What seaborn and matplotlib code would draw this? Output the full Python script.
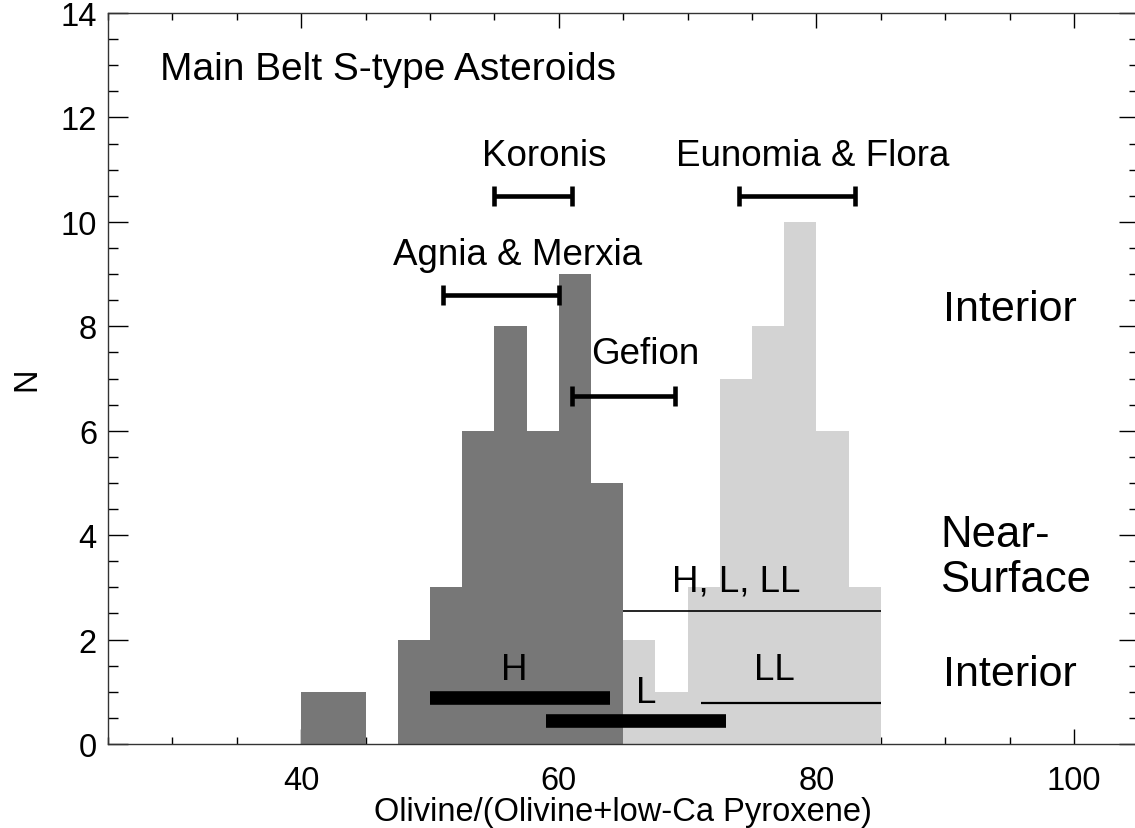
import matplotlib
matplotlib.use("Agg")
import matplotlib.pyplot as plt
import seaborn as sns
import numpy as np

# ---- data ----
dark_bin_left = [40, 42.5, 45, 47.5, 50, 52.5, 55, 57.5, 60, 62.5]
dark_counts = [1, 1, 0, 2, 3, 6, 8, 6, 9, 5]
light_bin_left = [65, 67.5, 70, 72.5, 75, 77.5, 80, 82.5]
light_counts = [2, 1, 3, 7, 8, 10, 6, 3]
bin_width = 2.5

family_names = ["Koronis", "Eunomia & Flora", "Agnia & Merxia", "Gefion"]
family_lo = [55, 74, 51, 61]
family_hi = [61, 83, 60, 69]
family_y = [10.5, 10.5, 8.6, 6.67]
family_label_xy = [(58.9, 11.27), (79.7, 11.27), (56.8, 9.37), (66.7, 7.47)]

met_names = ["H", "L", "LL", "H, L, LL"]
met_lo = [50, 59, 71, 65]
met_hi = [64, 73, 85, 85]
met_y = [0.88, 0.45, 0.79, 2.55]
met_lw = [9.8, 9.8, 1.6, 1.2]
met_label_xy = [(56.5, 1.42), (66.8, 0.98), (76.7, 1.42), (73.8, 3.12)]

x_ticks = [40, 60, 80, 100]
y_ticks = [0, 2, 4, 6, 8, 10, 12, 14]

# ---- plot ----
sns.set_style("white")
plt.rcParams['font.family'] = ['Liberation Sans', 'DejaVu Sans']
plt.rcParams['text.color'] = 'black'
plt.rcParams['axes.labelcolor'] = 'black'
plt.rcParams['xtick.color'] = 'black'
plt.rcParams['ytick.color'] = 'black'

fig = plt.figure(figsize=(11.35, 8.29), dpi=100)
ax = fig.add_axes([108/1135, 84/829, 1030.5/1135, 731/829])

dark_edges = dark_bin_left + [dark_bin_left[-1] + bin_width]
light_edges = light_bin_left + [light_bin_left[-1] + bin_width]
dark_centers = [b + bin_width / 2 for b in dark_bin_left]
light_centers = [b + bin_width / 2 for b in light_bin_left]

sns.histplot(x=light_centers, weights=light_counts, bins=light_edges, color="#d3d3d3",
             alpha=1, linewidth=0, ax=ax, zorder=1)
sns.histplot(x=dark_centers, weights=dark_counts, bins=dark_edges, color="#777777",
             alpha=1, linewidth=0, ax=ax, zorder=2)

# family ranges
for name, lo, hi, y, (tx, ty) in zip(family_names, family_lo, family_hi, family_y, family_label_xy):
    c = (lo + hi) / 2
    ax.errorbar([c], [y], xerr=[[c - lo], [hi - c]], fmt="none", ecolor="black",
                elinewidth=3.3, capsize=7.5, capthick=3.3, zorder=5)
    ax.text(tx, ty, name, ha="center", va="center", fontsize=26.5, zorder=6)

# meteorite ranges
for name, lo, hi, y, lw, (tx, ty) in zip(met_names, met_lo, met_hi, met_y, met_lw, met_label_xy):
    ax.hlines(y, lo, hi, colors="black", linewidth=lw, zorder=5)
    ax.text(tx, ty, name, ha="center", va="center", fontsize=26.5, zorder=6)

ax.text(29.0, 12.93, "Main Belt S-type Asteroids", ha="left", va="center", fontsize=28)
ax.text(95.0, 8.33, "Interior", ha="center", va="center", fontsize=31)
ax.text(89.6, 3.58, "Near-\nSurface", ha="left", va="center", fontsize=31.5, linespacing=1.12)
ax.text(95.0, 1.34, "Interior", ha="center", va="center", fontsize=31)

ax.set_xlim(25, 105)
ax.set_ylim(0, 14)
ax.set_xticks(x_ticks)
ax.set_yticks(y_ticks)
ax.set_xticks(np.arange(25, 106, 5), minor=True)
ax.set_yticks(np.arange(0, 14.01, 0.5), minor=True)

ax.tick_params(axis="x", which="major", direction="in", length=10.5, width=1,
               top=True, bottom=True, labelsize=23.5, pad=15)
ax.tick_params(axis="x", which="minor", direction="in", length=5.3, width=1,
               top=True, bottom=True)
ax.tick_params(axis="y", which="major", direction="in", length=14.4, width=1,
               left=True, right=True, labelsize=23.5, pad=8)
ax.tick_params(axis="y", which="minor", direction="in", length=7.2, width=1,
               left=True, right=True)

for s in ax.spines.values():
    s.set_visible(True)
    s.set_color("#333333")
    s.set_linewidth(1)

ax.set_xlabel("Olivine/(Olivine+low-Ca Pyroxene)", fontsize=23.5, labelpad=0)
ax.set_ylabel("N", fontsize=23.5, labelpad=13)

fig.savefig("out.png", dpi=100)
